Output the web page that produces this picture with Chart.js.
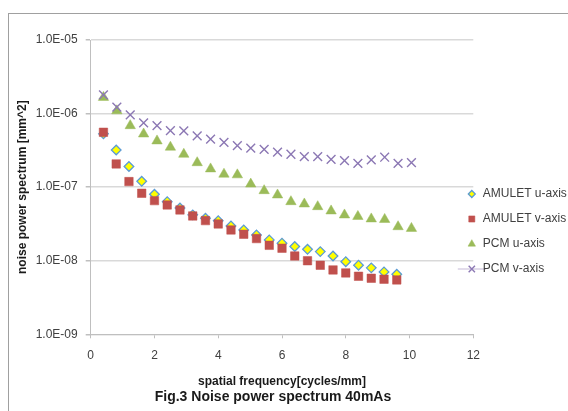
<!DOCTYPE html>
<html>
<head>
<meta charset="utf-8">
<script src="https://cdn.jsdelivr.net/npm/chart.js@4/dist/chart.umd.min.js"></script>
<style>
    html, body { margin: 0; padding: 0; background: #fff; }
    #wrap { position: relative; width: 568px; height: 411px; overflow: hidden; }
    #frame {
        position: absolute; left: 8px; top: 13px; width: 559px; height: 410px;
        border-top: 1px solid #a0a0a0; border-left: 1px solid #a0a0a0;
    }
    #chart { position: absolute; left: 0; top: 0; }
    #caption {
        position: absolute; left: 0; width: 546px; top: 388px; text-align: center;
        font: bold 14px "Liberation Sans", Arial, sans-serif; color: #1a1a1a;
    }
</style>
</head>
<body>
<div id="wrap">
    <div id="frame"></div>
    <canvas id="chart" width="568" height="411"></canvas>
    <div id="caption">Fig.3 Noise power spectrum 40mAs</div>
</div>
<script>
// spatial frequency [cycles/mm]
const amuletFreq = [0.4, 0.8, 1.2, 1.6, 2.0, 2.4, 2.8, 3.2, 3.6, 4.0, 4.4, 4.8,
    5.2, 5.6, 6.0, 6.4, 6.8, 7.2, 7.6, 8.0, 8.4, 8.8, 9.2, 9.6];
const pcmFreq = [0.40, 0.82, 1.24, 1.66, 2.08, 2.50, 2.92, 3.34, 3.76, 4.18, 4.60, 5.02,
    5.44, 5.86, 6.28, 6.70, 7.12, 7.54, 7.96, 8.38, 8.80, 9.22, 9.64, 10.06];

// noise power spectrum [mm^2]
const amuletU = [5.3e-7, 3.2e-7, 1.91e-7, 1.2e-7, 8.0e-8, 6.35e-8, 5.2e-8, 4.2e-8,
    3.78e-8, 3.5e-8, 2.97e-8, 2.62e-8, 2.24e-8, 1.92e-8, 1.73e-8, 1.56e-8,
    1.43e-8, 1.33e-8, 1.16e-8, 9.7e-9, 8.7e-9, 8.0e-9, 7.05e-9, 6.55e-9];
const amuletV = [5.57e-7, 2.07e-7, 1.19e-7, 8.26e-8, 6.56e-8, 5.73e-8, 4.9e-8, 4.06e-8,
    3.51e-8, 3.16e-8, 2.62e-8, 2.29e-8, 2.0e-8, 1.62e-8, 1.48e-8, 1.16e-8,
    1.0e-8, 8.68e-9, 7.5e-9, 6.83e-9, 6.15e-9, 5.78e-9, 5.61e-9, 5.49e-9];
const pcmU = [1.66e-6, 1.09e-6, 6.85e-7, 5.28e-7, 4.25e-7, 3.49e-7, 2.8e-7, 2.15e-7,
    1.77e-7, 1.5e-7, 1.47e-7, 1.1e-7, 8.96e-8, 7.83e-8, 6.35e-8, 5.91e-8,
    5.43e-8, 4.75e-8, 4.19e-8, 4.0e-8, 3.7e-8, 3.64e-8, 2.9e-8, 2.75e-8];
const pcmV = [1.79e-6, 1.22e-6, 9.6e-7, 7.5e-7, 6.85e-7, 5.86e-7, 5.8e-7, 4.97e-7,
    4.48e-7, 4.07e-7, 3.66e-7, 3.38e-7, 3.27e-7, 3.0e-7, 2.8e-7, 2.6e-7,
    2.6e-7, 2.39e-7, 2.29e-7, 2.11e-7, 2.35e-7, 2.55e-7, 2.11e-7, 2.15e-7];

const seriesNames = ['AMULET u-axis', 'AMULET v-axis', 'PCM u-axis', 'PCM v-axis'];
const yTicks = [1e-9, 1e-8, 1e-7, 1e-6, 1e-5];
const xTicks = [0, 2, 4, 6, 8, 10, 12];

const FONT = '"Liberation Sans", Arial, sans-serif';

function toPoints(xs, ys) {
    return xs.map((x, i) => ({ x: x, y: ys[i] }));
}

// 1e-5 -> "1.0E-05"
function sciLabel(v) {
    const parts = v.toExponential(1).split('e');
    const exp = parseInt(parts[1]);
    const sign = exp < 0 ? '-' : '+';
    return parts[0] + 'E' + sign + String(Math.abs(exp)).padStart(2, '0');
}

// legend drawn at the right of the plot, like the original
const sideLegend = {
    id: 'sideLegend',
    afterDraw(chart) {
        const ctx = chart.ctx;
        const area = chart.chartArea;
        const markerX = area.right - 1.5;
        const textX = area.right + 9.5;
        let y = 194;
        ctx.save();
        chart.data.datasets.forEach(ds => {
            if (ds.legendLine) {
                ctx.strokeStyle = '#d8d0e4';
                ctx.lineWidth = 1.5;
                ctx.beginPath();
                ctx.moveTo(markerX - 14, y);
                ctx.lineTo(markerX + 14, y);
                ctx.stroke();
            }
            ctx.fillStyle = ds.backgroundColor;
            ctx.strokeStyle = ds.borderColor;
            ctx.lineWidth = ds.borderWidth;
            Chart.helpers.drawPoint(ctx, {
                pointStyle: ds.pointStyle,
                radius: ds.pointRadius * 0.72,
                rotation: 0,
                borderWidth: ds.borderWidth
            }, markerX, y);
            ctx.fillStyle = '#404040';
            ctx.font = '12px ' + FONT;
            ctx.textAlign = 'left';
            ctx.textBaseline = 'middle';
            ctx.fillText(ds.label, textX, y);
            y += 25;
        });
        ctx.restore();
    }
};

new Chart(document.getElementById('chart'), {
    type: 'scatter',
    data: {
        datasets: [
            {
                label: seriesNames[0],
                data: toPoints(amuletFreq, amuletU),
                pointStyle: 'rectRot',
                pointRadius: 4.8,
                backgroundColor: '#ffff00',
                borderColor: '#5b9bd5',
                borderWidth: 1.3,
                order: 4
            },
            {
                label: seriesNames[1],
                data: toPoints(amuletFreq, amuletV),
                pointStyle: 'rect',
                pointRadius: 6,
                backgroundColor: '#c0504d',
                borderColor: '#c0504d',
                borderWidth: 0.5,
                order: 3
            },
            {
                label: seriesNames[2],
                data: toPoints(pcmFreq, pcmU),
                pointStyle: 'triangle',
                pointRadius: 6,
                backgroundColor: '#9bbb59',
                borderColor: '#9bbb59',
                borderWidth: 0.5,
                order: 2
            },
            {
                label: seriesNames[3],
                data: toPoints(pcmFreq, pcmV),
                pointStyle: 'crossRot',
                pointRadius: 6.2,
                backgroundColor: '#8c78b4',
                borderColor: '#8c78b4',
                borderWidth: 1.4,
                legendLine: true,
                order: 1
            }
        ]
    },
    options: {
        responsive: false,
        animation: false,
        layout: { padding: { left: 0, top: 40, right: 94.7, bottom: 0 } },
        plugins: {
            legend: { display: false },
            tooltip: { enabled: false }
        },
        scales: {
            x: {
                type: 'linear',
                min: 0,
                max: 12,
                afterBuildTicks: s => { s.ticks = xTicks.map(v => ({ value: v })); },
                afterFit: s => { s.height = 76.7; },
                border: { color: '#bfbfbf' },
                grid: { drawOnChartArea: false, drawTicks: true, tickLength: 4, color: '#bfbfbf' },
                ticks: { color: '#404040', font: { family: FONT, size: 12 }, padding: 10 },
                title: {
                    display: true,
                    text: 'spatial frequency[cycles/mm]',
                    color: '#1a1a1a',
                    font: { family: FONT, size: 12, weight: 'bold' },
                    padding: { top: 0, bottom: 22 }
                }
            },
            y: {
                type: 'logarithmic',
                min: 1e-9,
                max: 1e-5,
                afterBuildTicks: s => { s.ticks = yTicks.map(v => ({ value: v })); },
                afterFit: s => { s.width = 90.7; },
                border: { color: '#bfbfbf' },
                grid: { color: '#d9d9d9', lineWidth: 1.5, tickLength: 5, tickColor: '#bfbfbf' },
                ticks: {
                    color: '#404040',
                    font: { family: FONT, size: 12 },
                    padding: 8,
                    callback: v => sciLabel(v)
                },
                title: {
                    display: true,
                    text: 'noise power spectrum [mm^2]',
                    color: '#1a1a1a',
                    font: { family: FONT, size: 12, weight: 'bold' },
                    padding: { top: 15, bottom: 0 }
                }
            }
        }
    },
    plugins: [sideLegend]
});
</script>
</body>
</html>
